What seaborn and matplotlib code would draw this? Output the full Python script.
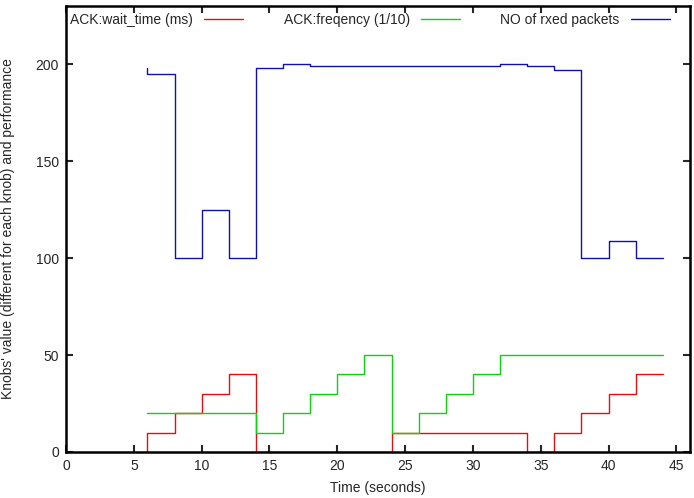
import pandas as pd
import matplotlib
matplotlib.use("Agg")
import matplotlib.pyplot as plt
import seaborn as sns

# sample times (seconds), one sample every 2 s
time_s = [6, 8, 10, 12, 14, 16, 18, 20, 22, 24, 26, 28, 30, 32, 34, 36, 38, 40, 42, 44]

# ACK wait time (ms)
wait_time = [0, 10, 20, 30, 40, 0, 0, 0, 0, 0, 10, 10, 10, 10, 10, 0, 10, 20, 30, 40]

# ACK frequency (1/10)
frequency = [20, 20, 20, 20, 20, 10, 20, 30, 40, 50, 10, 20, 30, 40, 50, 50, 50, 50, 50, 50]

# number of received packets
rxed = [198, 195, 100, 125, 100, 198, 200, 199, 199, 199, 199, 199, 199, 199, 200,
        199, 197, 100, 109, 100]

labels = ["ACK:wait_time (ms)", "ACK:freqency (1/10)", "NO of rxed packets"]
colors = ["#e01010", "#10d010", "#1010b0"]

df = pd.DataFrame({"time": time_s * 3,
                   "value": wait_time + frequency + rxed,
                   "series": [labels[0]] * len(time_s) + [labels[1]] * len(time_s)
                             + [labels[2]] * len(time_s)})

sns.set_style("ticks")
plt.rcParams["font.family"] = ["Liberation Sans", "DejaVu Sans"]
plt.rcParams["font.size"] = 10

fig = plt.figure(figsize=(6.94, 4.98), dpi=100)
ax = fig.add_axes([0.0951, 0.0924, 0.8991, 0.8956])

sns.lineplot(data=df, x="time", y="value", hue="series", palette=colors,
             hue_order=labels, estimator=None, sort=True, drawstyle="steps-pre",
             linewidth=1.0, ax=ax)

ax.set_xlim(0, 46)
ax.set_ylim(0, 230)
ax.set_xticks(range(0, 46, 5))
ax.set_yticks(range(0, 201, 50))
ax.set_xlabel("Time (seconds)", labelpad=6)
ax.set_ylabel("Knobs' value (different for each knob) and performance", labelpad=15)

for s in ax.spines.values():
    s.set_linewidth(1.8)
    s.set_color("black")
ax.tick_params(direction="in", length=5, width=1.5, top=True, right=True,
               labelsize=10, pad=5)

leg = ax.legend(loc="upper left", bbox_to_anchor=(0, 0.993, 0.974, 0), mode="expand",
                ncol=3, frameon=False, markerfirst=False, handlelength=2.8,
                borderaxespad=0, handletextpad=0.8, fontsize=10,
                borderpad=0.3)

fig.savefig("out.png", dpi=100)
